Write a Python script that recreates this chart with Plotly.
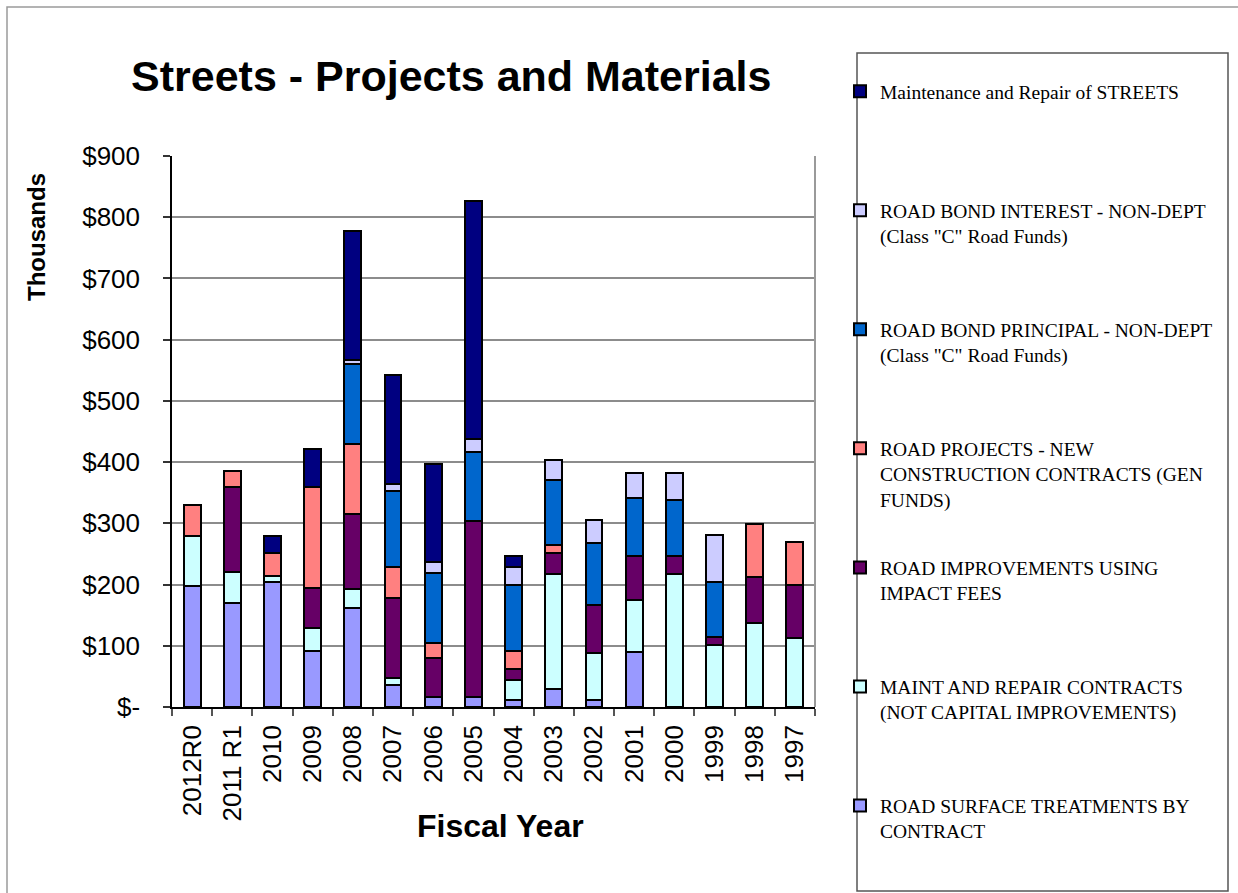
import plotly.graph_objects as go

categories = ["2012R0", "2011 R1", "2010", "2009", "2008", "2007", "2006", "2005",
              "2004", "2003", "2002", "2001", "2000", "1999", "1998", "1997"]

surface_treatments = [198, 170, 204, 91, 162, 36, 17, 17, 11, 30, 11, 90, None, None, None, None]
maint_repair_contracts = [81, 51, 10, 38, 31, 11, None, None, 33, 188, 77, 84, 218, 101, 138, 112]
impact_fee_improvements = [None, 139, None, 65, 123, 131, 63, 287, 18, 33, 79, 72, 29, 13, 75, 87]
new_construction = [51, 25, 38, 166, 114, 50, 25, None, 30, 14, None, None, None, None, 86, 71]
bond_principal = [None, None, None, None, 130, 125, 114, 112, 108, 106, 101, 95, 91, 90, None, None]
bond_interest = [None, None, None, None, 7, 11, 18, 22, 29, 33, 38, 41, 44, 77, None, None]
maint_streets = [None, None, 27, 61, 210, 178, 160, 388, 17, None, None, None, None, None, None, None]

series_names = [
    "ROAD SURFACE TREATMENTS BY<br>CONTRACT<br> ",
    "MAINT AND REPAIR CONTRACTS<br>(NOT CAPITAL IMPROVEMENTS)<br> ",
    "ROAD IMPROVEMENTS USING<br>IMPACT FEES<br> ",
    "ROAD PROJECTS - NEW<br>CONSTRUCTION CONTRACTS (GEN<br>FUNDS)",
    "ROAD BOND PRINCIPAL - NON-DEPT<br>(Class \"C\" Road Funds)<br> ",
    "ROAD BOND INTEREST - NON-DEPT<br>(Class \"C\" Road Funds)<br> ",
    "Maintenance and Repair of STREETS<br> <br> ",
]
series_values = [surface_treatments, maint_repair_contracts, impact_fee_improvements,
                 new_construction, bond_principal, bond_interest, maint_streets]
series_colors = ["#9999FF", "#CCFFFF", "#660066", "#FF8080", "#0066CC", "#CCCCFF", "#000080"]

y_tick_values = [0, 100, 200, 300, 400, 500, 600, 700, 800, 900]
y_tick_labels = ["$-", "$100", "$200", "$300", "$400", "$500", "$600", "$700", "$800", "$900"]

W, H = 1238, 893
L, R, T, B = 172, 1238 - 815, 156, 893 - 707
PW, PH = W - L - R, H - T - B


def px_x(x):
    return (x - L) / PW


def px_y(y):
    return (H - B - y) / PH


fig = go.Figure()
n = len(series_names)
for i, (name, vals, col) in enumerate(zip(series_names, series_values, series_colors)):
    fig.add_trace(go.Bar(
        x=categories, y=vals, name=name, legendgroup=f"g{i}", legendrank=100 * (n - i),
        marker=dict(color=col, line=dict(color="black", width=2)),
        width=0.42,
    ))

sans = "Liberation Sans, Arial, sans-serif"
serif = "Liberation Serif, Times New Roman, serif"

fig.update_layout(
    width=W, height=H, autosize=False,
    margin=dict(l=L, r=R, t=T, b=B),
    paper_bgcolor="white", plot_bgcolor="white",
    barmode="stack",
    showlegend=True,
    legend=dict(
        x=px_x(840), xanchor="left", y=px_y(72), yanchor="top",
        traceorder="grouped", tracegroupgap=40, valign="top",
        maxheight=880,
        font=dict(family=serif, size=19.5, color="black"),
        bgcolor="rgba(0,0,0,0)", borderwidth=0,
    ),
    xaxis=dict(
        type="category", tickson="boundaries", ticks="outside", ticklen=7,
        tickcolor="#555", tickwidth=1.5, tickangle=-90,
        tickfont=dict(family=sans, size=26, color="black"),
        ticklabelstandoff=6,
        showline=True, linecolor="black", linewidth=1.5,
        showgrid=False, fixedrange=True,
    ),
    yaxis=dict(
        range=[0, 900], tickvals=y_tick_values, ticktext=y_tick_labels,
        ticks="outside", ticklen=7, tickcolor="#333", tickwidth=1.5,
        tickfont=dict(family=sans, size=26, color="black"),
        ticklabelstandoff=18,
        showline=True, linecolor="black", linewidth=1.5,
        showgrid=True, gridcolor="#8c8c8c", gridwidth=1.5,
        zeroline=False, fixedrange=True,
    ),
    shapes=[
        dict(type="rect", xref="paper", yref="paper",
             x0=px_x(7), x1=px_x(1260), y0=px_y(910), y1=px_y(7),
             line=dict(color="#9a9a9a", width=1.5), layer="below"),
        dict(type="rect", xref="paper", yref="paper",
             x0=px_x(857), x1=px_x(1228), y0=px_y(891), y1=px_y(53),
             line=dict(color="#555555", width=1.5), layer="below"),
        dict(type="line", xref="paper", yref="paper",
             x0=1, x1=1, y0=0, y1=1,
             line=dict(color="#9a9a9a", width=2)),
    ],
    annotations=[
        dict(text="<b>Streets - Projects and Materials</b>", xref="paper", yref="paper",
             x=px_x(451), y=px_y(76), xanchor="center", yanchor="middle", showarrow=False,
             font=dict(family=sans, size=43, color="black")),
        dict(text="<b>Fiscal Year</b>", xref="paper", yref="paper",
             x=px_x(500), y=px_y(826), xanchor="center", yanchor="middle", showarrow=False,
             font=dict(family=sans, size=32, color="black")),
        dict(text="<b>Thousands</b>", xref="paper", yref="paper", textangle=-90,
             x=px_x(36), y=px_y(237), xanchor="center", yanchor="middle", showarrow=False,
             font=dict(family=sans, size=24, color="black")),
    ],
)

fig.write_html("out.html", config=dict(displayModeBar=False),
               post_script="document.body.style.margin='0';document.body.style.overflow='hidden';")
